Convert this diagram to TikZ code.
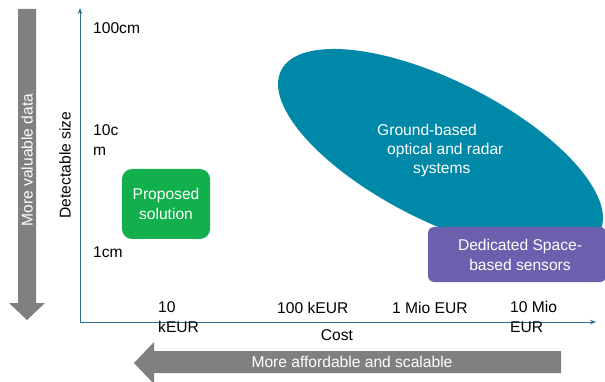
\documentclass[tikz,border=0pt]{standalone}
\usepackage{fontspec}
\setmainfont{Liberation Sans}
\usetikzlibrary{arrows.meta}
\definecolor{axiscol}{RGB}{46,110,142}
\definecolor{ellcol}{RGB}{0,136,168}
\definecolor{purplecol}{RGB}{106,96,174}
\definecolor{greencol}{RGB}{18,176,76}
\definecolor{arrowgray}{RGB}{128,128,128}
\tikzset{
  lbl/.style={font=\fontsize{15.6}{20}\selectfont, text=black, inner sep=0pt, align=left},
  wlbl/.style={font=\fontsize{15.6}{20}\selectfont, text=white, inner sep=0pt},
  axisline/.style={draw=axiscol, line width=0.8pt, -{Stealth[length=6pt,width=4.5pt]}},
  bigarrow/.style={fill=arrowgray, draw=none}
}
\begin{document}
\begin{tikzpicture}[x=1pt,y=-1pt]
\useasboundingbox (0,0) rectangle (605,382);
% big gray arrows
\fill[bigarrow] (18,9) -- (36,9) -- (36,303) -- (45,303) -- (27,320) -- (9,303) -- (18,303) -- cycle;
\node[wlbl, rotate=90] (valuable) at (27,160) {More valuable data};
\fill[bigarrow] (561,351) -- (561,373) -- (154,373) -- (154,384) -- (134,363) -- (154,342) -- (154,351) -- cycle;
\node[wlbl] (affordable) at (352,362) {More affordable and scalable};
% axes
\coordinate (origin) at (80,322);
\coordinate (yend) at (80,8);
\coordinate (xend) at (596,322);
\draw[axisline] (origin) -- (yend);
\draw[axisline] (origin) -- (xend);
\node[lbl, rotate=90] (ylabel) at (65,165) {Detectable size};
\node[lbl] (xlabel) at (337,335) {Cost};
% y ticks
\node[lbl, anchor=west] (y100) at (93,28) {100cm};
\node[lbl, anchor=north west] (y10) at (93,124) {10c\\m};
\node[lbl, anchor=west] (y1) at (93,252) {1cm};
% x ticks
\node[lbl, anchor=north west] (x10k) at (158,301) {10\\kEUR};
\node[lbl, anchor=west] (x100k) at (277,308) {100 kEUR};
\node[lbl, anchor=west] (x1m) at (392,308) {1 Mio EUR};
\node[lbl, anchor=north west] (x10m) at (510,301) {10 Mio\\EUR};
% ellipse
\fill[ellcol, rotate around={-26.85:(440.5,151)}] (440.5,151) ellipse [x radius=178.6pt, y radius=70pt];
\node[wlbl, anchor=west] (g1) at (377,130) {Ground-based};
\node[wlbl, anchor=west] (g2) at (387,150) {optical and radar};
\node[wlbl, anchor=west] (g3) at (413,170) {systems};
% purple box
\fill[purplecol, rounded corners=6pt] (428,227) rectangle (606,282);
\node[wlbl, align=center] (space) at (520,255) {Dedicated Space-\\based sensors};
% green box
\fill[greencol, rounded corners=10pt] (122,169) rectangle (210,239);
\node[wlbl, align=center] (proposed) at (166,204) {Proposed\\solution};
\end{tikzpicture}
\end{document}
